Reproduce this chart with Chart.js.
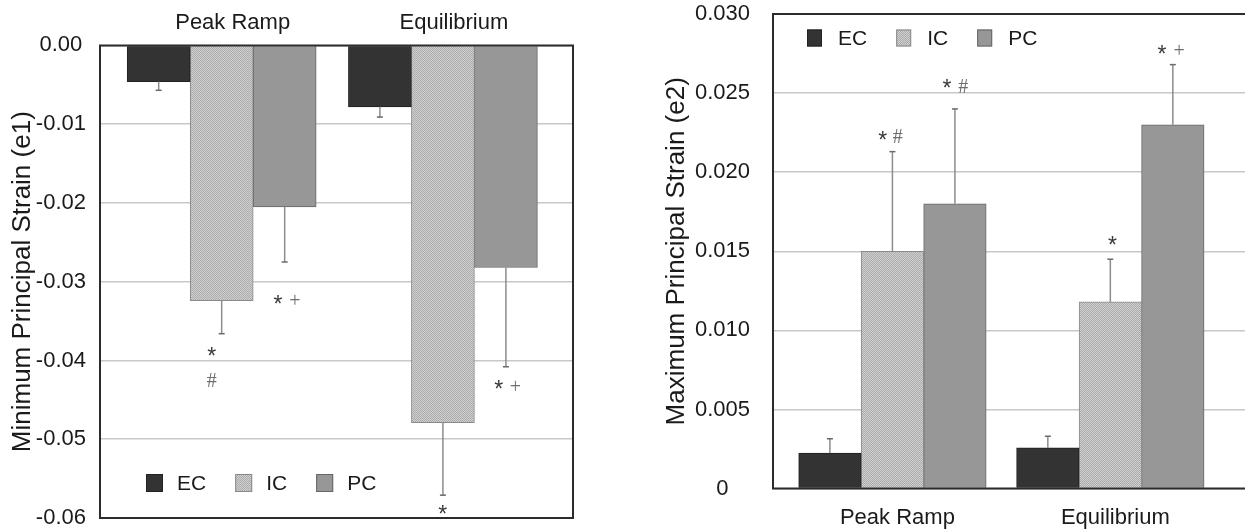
<!DOCTYPE html>
<html>
<head>
<meta charset="utf-8">
<script src="https://cdn.jsdelivr.net/npm/chart.js@4.4.1/dist/chart.umd.min.js"></script>
<style>
  html, body { margin: 0; padding: 0; background: #fff; }
  #wrap { position: relative; width: 1245px; height: 531px; overflow: hidden; }
  #left-chart { position: absolute; left: 0; top: 0; }
  #right-chart { position: absolute; left: 655px; top: 0; }
</style>
</head>
<body>
<div id="wrap">
  <canvas id="left-chart" width="600" height="531"></canvas>
  <canvas id="right-chart" width="590" height="531"></canvas>
</div>
<script>
'use strict';

// ─── Data ─────────────────────────────────────────────────────────────────────
const categories = ['Peak Ramp', 'Equilibrium'];
const groups     = ['EC', 'IC', 'PC'];

// minimum principal strain (e1): means and error bar lengths
const e1EC    = [-0.0046, -0.0078];
const e1IC    = [-0.0324, -0.0479];
const e1PC    = [-0.0205, -0.0282];
const e1ErrEC = [0.0011, 0.0013];
const e1ErrIC = [0.0042, 0.0092];
const e1ErrPC = [0.0070, 0.0126];

// maximum principal strain (e2)
const e2EC    = [0.00225, 0.00257];
const e2IC    = [0.0150, 0.0118];
const e2PC    = [0.0180, 0.0230];
const e2ErrEC = [0.0009, 0.00074];
const e2ErrIC = [0.0063, 0.0027];
const e2ErrPC = [0.0060, 0.0038];

// significance symbols: [position along category axis, value, symbol]
const e1Marks = [
  [-0.045, -0.0387, '*'], [-0.045, -0.0425, '#'],
  [0.255, -0.0322, '*'],  [0.331, -0.0325, '+'],
  [0.999, -0.0588, '*'],
  [1.252, -0.0430, '*'],  [1.328, -0.0434, '+'],
];
const e2Marks = [
  [-0.044, 0.02236, '*'], [0.024, 0.02225, '#'],
  [0.250, 0.02563, '*'],  [0.325, 0.02546, '#'],
  [1.010, 0.01576, '*'],
  [1.237, 0.02778, '*'],  [1.316, 0.02763, '+'],
];

// ─── Styles ───────────────────────────────────────────────────────────────────
const SANS  = "'Liberation Sans', Arial, sans-serif";
const SERIF = "'Liberation Serif', 'Times New Roman', serif";
const INK   = '#1a1a1a';
const TICK_SIZE = 22;

Chart.defaults.font.family = SANS;
Chart.defaults.color = INK;

function dither() {
  const c = document.createElement('canvas');
  c.width = 2; c.height = 2;
  const g = c.getContext('2d');
  g.fillStyle = '#d0d0d0'; g.fillRect(0, 0, 2, 2);
  g.fillStyle = '#ababab'; g.fillRect(0, 0, 1, 1); g.fillRect(1, 1, 1, 1);
  return g.createPattern(c, 'repeat');
}

const fills   = ['#333333', dither(), '#979797'];
const borders = ['#222222', '#8a8a8a', '#666666'];

// ─── Plugins ──────────────────────────────────────────────────────────────────
const errorBars = {
  id: 'errorBars',
  afterDatasetsDraw(chart) {
    const { ctx, scales: { y } } = chart;
    ctx.save();
    ctx.lineWidth = 1.5;
    chart.data.datasets.forEach((ds, i) => {
      chart.getDatasetMeta(i).data.forEach((bar, j) => {
        const v = ds.data[j].y;
        const yEnd = y.getPixelForValue(v + Math.sign(v) * ds.errors[j]);
        ctx.strokeStyle = '#8c8c8c';
        ctx.beginPath(); ctx.moveTo(bar.x, bar.y); ctx.lineTo(bar.x, yEnd); ctx.stroke();
        ctx.strokeStyle = '#6a6a6a';
        ctx.beginPath(); ctx.moveTo(bar.x - 3, yEnd); ctx.lineTo(bar.x + 3, yEnd); ctx.stroke();
      });
    });
    ctx.restore();
  },
};

function marksPlugin(marks) {
  return {
    id: 'sigMarks',
    afterDatasetsDraw(chart) {
      const { ctx, scales: { x, y } } = chart;
      ctx.save();
      ctx.textAlign = 'center';
      ctx.textBaseline = 'alphabetic';
      marks.forEach(([mx, my, sym]) => {
        const star = sym === '*';
        const size = star ? 23 : 20;
        ctx.font = `${size}px ${star ? SANS : SERIF}`;
        ctx.fillStyle = star ? '#3a3a3a' : '#6e6e6e';
        const k = star ? 0.58 : sym === '#' ? 0.34 : 0.29;
        ctx.fillText(sym, x.getPixelForValue(mx), y.getPixelForValue(my) + k * size);
      });
      ctx.restore();
    },
  };
}

function legendPlugin(dx, dy, fromBottom, bw, bh) {
  return {
    id: 'boxLegend',
    afterDraw(chart) {
      const { ctx, chartArea: a } = chart;
      const yc = fromBottom ? a.bottom + dy : a.top + dy;
      let x = a.left + dx;
      ctx.save();
      ctx.font = `21px ${SANS}`;
      ctx.textBaseline = 'middle';
      ctx.textAlign = 'left';
      chart.data.datasets.forEach(ds => {
        ctx.fillStyle = ds.backgroundColor;
        ctx.fillRect(x, yc - bh / 2, bw, bh);
        ctx.strokeStyle = ds.borderColor;
        ctx.lineWidth = 1;
        ctx.strokeRect(x + 0.5, yc - bh / 2 + 0.5, bw - 1, bh - 1);
        ctx.fillStyle = INK;
        ctx.fillText(ds.label, x + 31, yc + 1);
        x += 31 + ctx.measureText(ds.label).width + 29;
      });
      ctx.restore();
    },
  };
}

function framePlugin(closed) {
  return {
    id: 'frame',
    afterDraw(chart) {
      const { ctx, chartArea: a } = chart;
      ctx.save();
      ctx.strokeStyle = '#2b2b2b';
      ctx.lineWidth = 2;
      ctx.beginPath();
      if (closed) {
        ctx.rect(a.left, a.top, a.right - a.left, a.bottom - a.top);
      } else {
        ctx.moveTo(a.right + 2, a.top); ctx.lineTo(a.left, a.top);
        ctx.lineTo(a.left, a.bottom); ctx.lineTo(a.right + 2, a.bottom);
      }
      ctx.stroke();
      ctx.restore();
    },
  };
}

// ─── Chart builder ────────────────────────────────────────────────────────────
function buildChart(canvasId, cfg) {
  return new Chart(document.getElementById(canvasId), {
    type: 'bar',
    data: {
      datasets: groups.map((g, i) => ({
        label: g,
        data: cfg.series[i].map((v, j) => ({ x: j, y: v })),
        errors: cfg.errors[i],
        backgroundColor: fills[i],
        borderColor: borders[i],
        borderWidth: 1,
        barThickness: cfg.barThickness,
      })),
    },
    options: {
      responsive: false,
      animation: false,
      layout: { padding: cfg.padding },
      plugins: { legend: { display: false }, tooltip: { enabled: false } },
      scales: {
        x: {
          type: 'linear',
          position: cfg.xPosition,
          min: cfg.xMin, max: cfg.xMax,
          offset: false,
          grid: { display: false, drawTicks: false },
          border: { display: false },
          // one label line plus the label padding (Chart.js counts the padding twice)
          afterFit: s => {
            s.height = cfg.xPad + TICK_SIZE * 1.2;
            s.paddingLeft = 0; s.paddingRight = 0;
          },
          ticks: {
            stepSize: 1,
            includeBounds: false,
            autoSkip: false,
            maxRotation: 0,
            padding: cfg.xPad,
            labelOffset: cfg.labelOffset,
            color: INK,
            font: { size: TICK_SIZE },
            callback: v => categories[v] ?? '',
          },
        },
        y: {
          min: cfg.yMin, max: cfg.yMax,
          grid: { color: '#c8c8c8', lineWidth: 1.5, drawTicks: false },
          border: { display: false },
          afterFit: s => { s.width = cfg.axisWidth; s.paddingTop = 0; s.paddingBottom = 0; },
          ticks: {
            stepSize: cfg.yStep,
            crossAlign: 'center',
            padding: cfg.yPad,
            color: INK,
            font: { size: TICK_SIZE },
            callback: cfg.fmt,
          },
          title: {
            display: true,
            text: cfg.title,
            color: INK,
            font: { size: 26 },
            padding: { top: cfg.titlePad, bottom: 0 },
          },
        },
      },
    },
    plugins: [errorBars, marksPlugin(cfg.marks), legendPlugin(...cfg.legend), framePlugin(cfg.closed)],
  });
}

// 1. Minimum principal strain
buildChart('left-chart', {
  series: [e1EC, e1IC, e1PC],
  errors: [e1ErrEC, e1ErrIC, e1ErrPC],
  marks: e1Marks,
  barThickness: 63,
  padding: { top: 10, right: 27, bottom: 13, left: 0 },
  xPosition: 'top', xMin: -0.55, xMax: 1.588, xPad: 9, labelOffset: 11,
  yMin: -0.06, yMax: 0, yStep: 0.01, yPad: 14, axisWidth: 100,
  fmt: v => (v === 0 ? '0.00' : v.toFixed(2)),
  title: 'Minimum Principal Strain (e1)', titlePad: 7,
  legend: [46, -35, true, 17, 18],
  closed: true,
});

// 2. Maximum principal strain
buildChart('right-chart', {
  series: [e2EC, e2IC, e2PC],
  errors: [e2ErrEC, e2ErrIC, e2ErrPC],
  marks: e2Marks,
  barThickness: 62.5,
  padding: { top: 14, right: 0, bottom: 0, left: 0 },
  xPosition: 'bottom', xMin: -0.548, xMax: 1.618, xPad: 16, labelOffset: 5,
  yMin: 0, yMax: 0.03, yStep: 0.005, yPad: 23, axisWidth: 118,
  fmt: v => (v === 0 ? '0' : v.toFixed(3)),
  title: 'Maximum Principal Strain (e2)', titlePad: 6,
  legend: [34, 24, false, 15, 17],
  closed: false,
});
</script>
</body>
</html>
